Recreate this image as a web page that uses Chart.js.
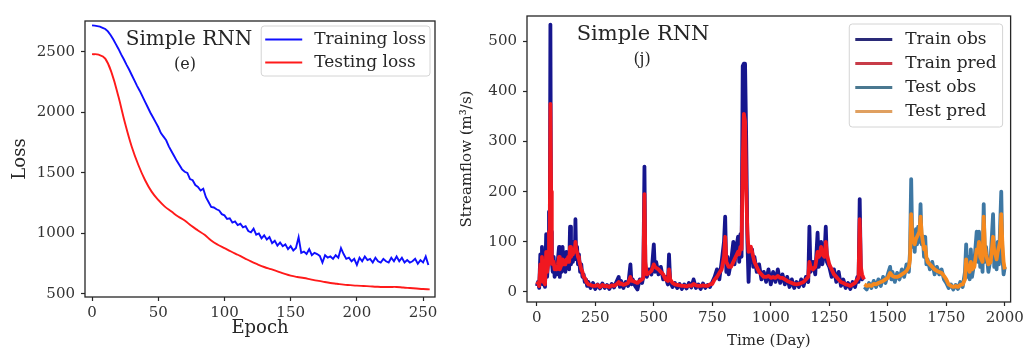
<!DOCTYPE html>
<html lang="en">
<head>
<meta charset="UTF-8" />
<title>Simple RNN - loss and streamflow</title>
<script src="https://cdn.jsdelivr.net/npm/chart.js"></script>
<style>
  body { margin: 0; background: #fff; width: 1027px; height: 350px; overflow: hidden; }
  .panel { position: absolute; top: 0; height: 350px; }
  #lossPanel { left: 0; width: 445px; }
  #flowPanel { left: 445px; width: 582px; }
</style>
</head>
<body>
<div class="panel" id="lossPanel"><canvas id="lossChart"></canvas></div>
<div class="panel" id="flowPanel"><canvas id="flowChart"></canvas></div>

<script>
// ---- panel (e): loss per epoch ----
const trainingStep = 2;   // one value every 2 epochs
const trainingLoss = [
  2720, 2718, 2714, 2710, 2700, 2690, 2670, 2640, 2605, 2565,
  2525, 2480, 2440, 2395, 2355, 2310, 2265, 2220, 2180, 2135,
  2090, 2045, 2000, 1960, 1920, 1880, 1830, 1800, 1770, 1720,
  1680, 1640, 1600, 1565, 1530, 1510, 1500, 1450, 1440, 1400,
  1385, 1355, 1370, 1300, 1260, 1220, 1215, 1200, 1190, 1160,
  1150, 1120, 1125, 1090, 1100, 1070, 1080, 1050, 1060, 1020,
  1010, 1040, 990, 1000, 960, 985, 950, 970, 920, 940,
  900, 925, 895, 910, 870, 895, 860, 880, 970, 840,
  850, 830, 870, 820, 840, 830, 815, 760, 820, 800,
  810, 790, 820, 800, 880, 830, 790, 800, 770, 790,
  740, 800, 770, 810, 780, 790, 760, 800, 770, 760,
  790, 770, 760, 800, 770, 810, 770, 800, 760, 780,
  760, 770, 790, 750, 780, 760, 810, 740
];
const testingStep = 5;    // one value every 5 epochs
const testingLoss = [
  2482, 2478, 2445, 2321, 2129, 1909, 1717, 1566, 1442, 1346,
  1277, 1222, 1181, 1140, 1107, 1063, 1025, 989, 942, 907,
  879, 851, 824, 797, 769, 745, 723, 705, 687, 668,
  651, 640, 632, 621, 610, 600, 591, 584, 577, 573,
  569, 566, 563, 560, 558, 558, 558, 553, 549, 545,
  541, 538
];
const epochTicks = [0, 50, 100, 150, 200, 250];
const lossTicks = [500, 1000, 1500, 2000, 2500];

// ---- panel (j): streamflow per day ----
const trainDays = [
  0, 5, 10, 15, 18, 22, 26, 30, 35, 40,
  44, 48, 52, 55, 58, 61, 64, 68, 72, 76,
  80, 85, 90, 95, 98, 102, 106, 110, 114, 118,
  122, 126, 130, 134, 138, 142, 146, 150, 154, 158,
  162, 165, 168, 172, 176, 180, 185, 190, 195, 200,
  205, 210, 215, 220, 230, 240, 250, 260, 270, 280,
  290, 300, 310, 320, 330, 340, 350, 355, 360, 370,
  380, 390, 400, 405, 410, 420, 430, 440, 450, 455,
  460, 464, 470, 480, 490, 500, 505, 510, 520, 530,
  540, 550, 560, 565, 570, 580, 590, 600, 610, 620,
  630, 640, 650, 660, 670, 680, 690, 700, 710, 720,
  730, 740, 750, 760, 770, 780, 790, 800, 805, 810,
  815, 820, 830, 840, 845, 850, 860, 865, 870, 875,
  880, 885, 890, 895, 900, 905, 910, 915, 920, 925,
  930, 940, 950, 960, 970, 980, 990, 1000, 1010, 1020,
  1030, 1040, 1050, 1060, 1070, 1080, 1090, 1100, 1110, 1120,
  1130, 1140, 1150, 1160, 1165, 1170, 1180, 1190, 1200, 1205,
  1210, 1215, 1220, 1230, 1235, 1240, 1250, 1260, 1270, 1280,
  1290, 1300, 1310, 1320, 1330, 1340, 1350, 1360, 1370, 1375,
  1380, 1385, 1390, 1398
];
const trainObs = [
  12, 20, 8, 75, 20, 90, 15, 25, 10, 115,
  30, 60, 160, 60, 533, 120, 60, 40, 70, 30,
  55, 35, 65, 90, 30, 55, 40, 90, 45, 70,
  40, 80, 50, 75, 45, 130, 55, 90, 60, 100,
  65, 145, 70, 90, 55, 75, 40, 55, 30, 35,
  20, 25, 12, 20, 8, 18, 6, 15, 7, 17,
  8, 14, 6, 16, 9, 20, 30, 10, 22, 8,
  20, 12, 55, 15, 25, 12, 5, 25, 18, 30,
  250, 40, 30, 45, 35, 95, 40, 60, 35, 50,
  25, 30, 15, 75, 20, 10, 18, 8, 16, 6,
  15, 7, 18, 9, 25, 8, 15, 6, 17, 8,
  14, 10, 20, 30, 45, 25, 60, 100, 150, 40,
  70, 35, 60, 100, 55, 80, 110, 60, 115, 70,
  450, 455, 455, 300, 100, 20, 90, 60, 85, 50,
  70, 40, 55, 25, 40, 20, 45, 15, 40, 20,
  45, 18, 35, 15, 30, 10, 25, 8, 20, 10,
  25, 12, 30, 20, 130, 40, 60, 35, 118, 50,
  80, 100, 55, 80, 130, 60, 50, 30, 45, 20,
  40, 12, 25, 8, 18, 6, 20, 10, 30, 20,
  185, 35, 25, 30
];
const trainPred = [
  15, 18, 12, 55, 25, 70, 20, 22, 15, 80,
  40, 55, 120, 90, 375, 200, 70, 55, 60, 45,
  50, 45, 55, 70, 45, 50, 55, 65, 55, 60,
  55, 65, 60, 70, 60, 90, 70, 75, 75, 85,
  80, 100, 85, 80, 70, 65, 55, 45, 40, 30,
  28, 22, 18, 15, 14, 12, 12, 14, 10, 14,
  11, 12, 10, 13, 12, 15, 20, 16, 17, 14,
  16, 18, 30, 22, 22, 20, 18, 22, 25, 28,
  195, 60, 35, 38, 42, 55, 50, 48, 45, 40,
  35, 25, 22, 45, 25, 18, 15, 14, 13, 12,
  12, 11, 13, 12, 16, 13, 12, 12, 13, 12,
  12, 15, 16, 25, 30, 38, 45, 70, 110, 60,
  55, 50, 50, 60, 65, 70, 80, 75, 90, 85,
  260, 355, 340, 200, 120, 80, 85, 90, 80, 70,
  60, 50, 40, 35, 30, 30, 32, 28, 30, 28,
  32, 28, 28, 25, 22, 20, 18, 16, 15, 16,
  18, 20, 25, 30, 60, 50, 45, 50, 80, 70,
  75, 90, 75, 70, 100, 75, 55, 45, 35, 30,
  25, 20, 18, 15, 14, 12, 15, 18, 25, 28,
  145, 50, 35, 25
];
const testDays = [
  1400, 1410, 1420, 1430, 1440, 1450, 1460, 1470, 1480, 1490,
  1500, 1510, 1515, 1520, 1530, 1540, 1550, 1560, 1570, 1580,
  1590, 1595, 1600, 1605, 1610, 1615, 1620, 1625, 1630, 1635,
  1640, 1645, 1650, 1655, 1660, 1665, 1670, 1680, 1690, 1700,
  1710, 1720, 1730, 1740, 1750, 1760, 1770, 1780, 1790, 1800,
  1810, 1820, 1830, 1835, 1840, 1845, 1850, 1855, 1860, 1870,
  1880, 1885, 1890, 1895, 1900, 1905, 1910, 1915, 1920, 1930,
  1940, 1950, 1955, 1960, 1965, 1970, 1975, 1980, 1985, 1990,
  1995, 2000
];
const testObs = [
  10, 5, 18, 8, 22, 10, 25, 12, 30, 18,
  35, 50, 25, 40, 20, 38, 25, 45, 30, 55,
  40, 80, 225, 90, 110, 80, 125, 95, 130, 100,
  175, 95, 110, 70, 110, 55, 65, 45, 60, 35,
  50, 35, 45, 25, 18, 8, 15, 5, 14, 6,
  20, 10, 40, 95, 30, 70, 25, 85, 30, 60,
  120, 60, 120, 50, 80, 40, 175, 60, 90, 40,
  70, 155, 50, 90, 45, 100, 55, 130, 200, 70,
  35, 50
];
const testPred = [
  15, 12, 14, 12, 16, 15, 18, 20, 22, 25,
  28, 38, 35, 32, 30, 30, 32, 35, 38, 42,
  50, 65, 155, 110, 100, 95, 105, 110, 115, 120,
  150, 115, 100, 85, 90, 70, 60, 55, 50, 45,
  42, 40, 38, 32, 25, 15, 12, 10, 12, 10,
  14, 15, 25, 65, 45, 50, 40, 60, 45, 50,
  85, 80, 100, 70, 65, 60, 150, 90, 75, 55,
  60, 110, 80, 75, 65, 80, 90, 100, 155, 95,
  60, 45
];
const dayTicks = [0, 250, 500, 750, 1000, 1250, 1500, 1750, 2000];
const flowTicks = [0, 100, 200, 300, 400, 500];

// ---- shared bits ----
const serif = '"DejaVu Serif", "Liberation Serif", serif';
const inkColor = '#262626';
Chart.defaults.font.family = serif;

const frameBox = {
  id: 'frameBox',
  afterDatasetsDraw(chart) {
    const { ctx, chartArea: a } = chart;
    ctx.save();
    ctx.strokeStyle = inkColor;
    ctx.lineWidth = 1.3;
    ctx.strokeRect(a.left, a.top, a.right - a.left, a.bottom - a.top);
    ctx.restore();
  }
};

const panelLabel = {
  id: 'panelLabel',
  afterDatasetsDraw(chart, args, opts) {
    const { ctx, chartArea: a } = chart;
    const w = a.right - a.left, h = a.bottom - a.top;
    ctx.save();
    ctx.fillStyle = inkColor;
    ctx.textAlign = 'center';
    ctx.textBaseline = 'middle';
    ctx.font = `${opts.titleSize}px ${serif}`;
    ctx.fillText(opts.title, a.left + opts.x * w, a.top + opts.y * h);
    ctx.font = `${opts.subSize}px ${serif}`;
    ctx.fillText(opts.sub, a.left + opts.subX * w, a.top + opts.subY * h);
    ctx.restore();
  }
};

const insetLegend = {
  id: 'insetLegend',
  afterDatasetsDraw(chart, args, opts) {
    const { ctx, chartArea: a } = chart;
    const sets = chart.data.datasets;
    ctx.save();
    ctx.font = `${opts.fontSize}px ${serif}`;
    const textW = Math.max(...sets.map(d => ctx.measureText(d.label).width));
    const w = opts.pad + opts.lineLen + opts.gap + textW + opts.pad;
    const h = opts.rowH * sets.length + opts.padY * 2;
    const x = a.right - opts.inset - w;
    const y = a.top + opts.inset;
    ctx.beginPath();
    ctx.roundRect(x, y, w, h, 3);
    ctx.fillStyle = 'rgba(255,255,255,0.85)';
    ctx.fill();
    ctx.strokeStyle = '#d4d4d4';
    ctx.lineWidth = 1;
    ctx.stroke();
    sets.forEach((d, i) => {
      const cy = y + opts.padY + opts.rowH * (i + 0.5);
      ctx.beginPath();
      ctx.moveTo(x + opts.pad, cy);
      ctx.lineTo(x + opts.pad + opts.lineLen, cy);
      ctx.strokeStyle = d.legendColor || d.borderColor;
      ctx.lineWidth = opts.lineWidth;
      ctx.stroke();
      ctx.fillStyle = inkColor;
      ctx.textAlign = 'left';
      ctx.textBaseline = 'middle';
      ctx.fillText(d.label, x + opts.pad + opts.lineLen + opts.gap, cy);
    });
    ctx.restore();
  }
};

function axis(min, max, tickValues, size, titleText, titleSize, titlePad, labelPad) {
  return {
    type: 'linear',
    min: min,
    max: max,
    afterBuildTicks: s => { s.ticks = tickValues.map(v => ({ value: v })); },
    afterFit: s => { if (s.isHorizontal()) s.height = size; else s.width = size; },
    grid: { display: true, drawOnChartArea: false, drawTicks: true, tickLength: 4, tickColor: inkColor, tickWidth: 1.2 },
    border: { display: false },
    ticks: { color: '#333', font: { size: 15 }, padding: labelPad, maxRotation: 0, autoSkip: false, callback: v => String(v) },
    title: { display: true, text: titleText, color: inkColor, font: { size: titleSize }, padding: titlePad }
  };
}

// ---- left chart ----
new Chart(document.getElementById('lossChart'), {
  type: 'line',
  data: {
    datasets: [
      {
        label: 'Training loss',
        data: trainingLoss.map((v, i) => ({ x: i * trainingStep, y: v })),
        borderColor: '#0f0fff',
        borderWidth: 1.9,
        pointRadius: 0,
        tension: 0
      },
      {
        label: 'Testing loss',
        data: testingLoss.map((v, i) => ({ x: i * testingStep, y: v })),
        borderColor: '#ff1a1a',
        borderWidth: 1.9,
        pointRadius: 0,
        tension: 0.4
      }
    ]
  },
  options: {
    responsive: true,
    maintainAspectRatio: false,
    animation: false,
    layout: { padding: { top: 21, right: 10, left: 0, bottom: 0 } },
    plugins: {
      legend: { display: false },
      tooltip: { enabled: false },
      panelLabel: { title: 'Simple RNN', sub: '(e)', titleSize: 20, subSize: 16, x: 0.297, y: 0.068, subX: 0.286, subY: 0.16 },
      insetLegend: { fontSize: 17, pad: 4, lineLen: 37, gap: 12, rowH: 23, padY: 2, inset: 5, lineWidth: 2.2 }
    },
    scales: {
      x: axis(-5.3, 259, epochTicks, 53, 'Epoch', 18, { top: 0, bottom: 11 }, 3),
      y: axis(475, 2756, lossTicks, 85, 'Loss', 18, { top: 10, bottom: 0 }, 6)
    }
  },
  plugins: [frameBox, panelLabel, insetLegend]
});

// ---- right chart ----
const toPoints = (days, vals) => days.map((d, i) => ({ x: d, y: vals[i] }));

new Chart(document.getElementById('flowChart'), {
  type: 'line',
  data: {
    datasets: [
      { label: 'Train obs', data: toPoints(trainDays, trainObs), borderColor: '#16168e', legendColor: '#2a2a78', order: 4 },
      { label: 'Train pred', data: toPoints(trainDays, trainPred), borderColor: '#f01820', legendColor: '#c83c48', order: 3 },
      { label: 'Test obs', data: toPoints(testDays, testObs), borderColor: '#3e78a4', legendColor: '#4a7890', order: 2 },
      { label: 'Test pred', data: toPoints(testDays, testPred), borderColor: '#f5891e', legendColor: '#e0a060', order: 1 }
    ].map(d => Object.assign({ borderWidth: 3.8, pointRadius: 0, tension: 0, borderJoinStyle: 'round' }, d))
  },
  options: {
    responsive: true,
    maintainAspectRatio: false,
    animation: false,
    layout: { padding: { top: 16, right: 12, left: 0, bottom: 0 } },
    plugins: {
      legend: { display: false },
      tooltip: { enabled: false },
      panelLabel: { title: 'Simple RNN', sub: '(j)', titleSize: 21, subSize: 16, x: 0.24, y: 0.066, subX: 0.238, subY: 0.154 },
      insetLegend: { fontSize: 17, pad: 6, lineLen: 37, gap: 13, rowH: 24, padY: 3.5, inset: 8, lineWidth: 3 }
    },
    scales: {
      x: axis(-42, 2025, dayTicks, 48, 'Time (Day)', 15, { top: 0, bottom: 0 }, 3),
      y: axis(-20, 550, flowTicks, 82, 'Streamflow (m³/s)', 15, { top: 13, bottom: 0 }, 6)
    }
  },
  plugins: [frameBox, panelLabel, insetLegend]
});
</script>
</body>
</html>
